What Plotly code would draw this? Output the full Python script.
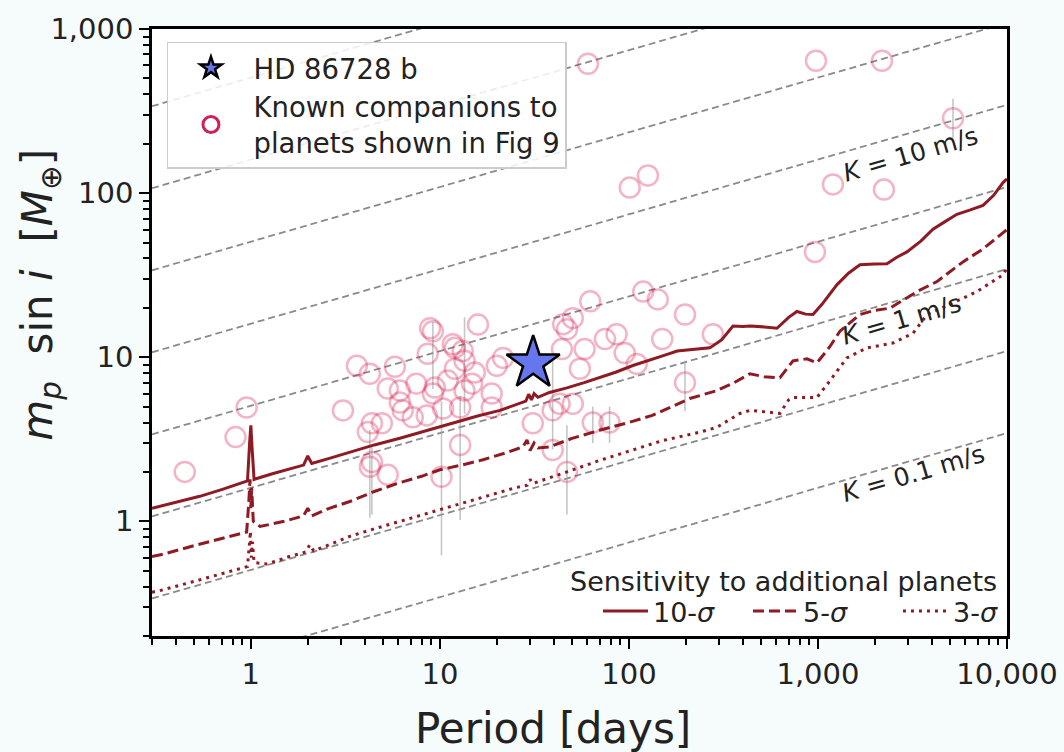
import plotly.graph_objects as go
import math

# ---------------- data ----------------
# Sensitivity curves (period in days, m sin i in Earth masses)
p_10sig = [0.3, 0.4, 0.537, 0.7, 0.9, 0.96, 0.985, 1.0, 1.015, 1.04, 1.3, 1.61, 1.9, 2.0, 2.1, 2.6,
           3.34, 4.5, 6.14, 8, 10, 13, 16, 20.8, 25, 28.5, 29.5, 30.5, 31.5, 33, 38, 47, 58, 70, 85,
           105, 130, 155, 180, 220, 268, 310, 355, 400, 437, 520, 607, 700, 774, 860, 941, 1050,
           1262, 1450, 1668, 2000, 2317, 2600, 2956, 3500, 4059, 4700, 5433, 6400, 7468, 8500, 9530, 10000]
m_10sig = [1.20, 1.31, 1.42, 1.56, 1.72, 1.76, 3.0, 3.85, 2.8, 1.8, 1.95, 2.08, 2.2, 2.5, 2.25, 2.42,
           2.64, 2.92, 3.21, 3.50, 3.76, 4.1, 4.4, 4.74, 5.1, 5.4, 5.95, 5.5, 6.0, 5.7, 6.1, 6.5, 7.0, 7.5, 8.1,
           8.9, 9.6, 10.3, 10.9, 11.1, 11.4, 12.8, 15.5, 15.4, 15.5, 15.3, 15.0, 17.5, 19.0, 18.3, 18.2, 21,
           27.7, 32.5, 36.6, 37, 37.1, 40.5, 43.8, 51, 60.3, 67, 74.3, 79, 84.2, 97, 116, 122]

p_5sig = [0.3, 0.343, 0.5, 0.775, 0.95, 0.975, 0.99, 1.0, 1.01, 1.03, 1.12, 1.5, 1.9, 2.0, 2.1, 2.6,
          3.34, 4.5, 6.14, 8, 10, 13, 16.9, 22, 27.5, 28.9, 30, 31.5, 33, 38, 50, 70, 100, 133, 170,
          210, 292, 360, 437, 520, 629, 738, 875, 988, 1150, 1307, 1668, 2000, 2404, 3342, 4264, 5000,
          5848, 7468, 9530, 10000]
m_5sig = [0.61, 0.63, 0.71, 0.81, 0.86, 1.3, 1.8, 1.2, 1.6, 1.0, 0.93, 1.0, 1.08, 1.2, 1.08, 1.2,
          1.32, 1.52, 1.72, 1.88, 2.06, 2.2, 2.37, 2.6, 2.84, 3.13, 2.7, 3.0, 2.8, 2.84, 3.2, 3.59, 4.0, 4.42, 5.0,
          5.6, 6.26, 7.0, 7.93, 7.6, 7.5, 9.5, 9.77, 9.24, 11.5, 14.4, 18.2, 19.3, 19.9, 25.1, 28.9, 33,
          38.1, 45.7, 57.8, 60]

p_3sig = [0.3, 0.33, 0.5, 0.8, 0.96, 0.98, 0.995, 1.005, 1.02, 1.04, 1.22, 1.6, 1.95, 2.05, 2.15, 2.6,
          3.34, 4.5, 6.14, 8, 10, 13, 19, 25, 29, 30, 31, 34, 47, 70, 105, 150, 237, 292, 386, 437,
          629, 700, 738, 988, 1157, 1422, 1815, 2494, 3184, 3776, 4992, 6930, 9530, 10000]
m_3sig = [0.37, 0.378, 0.43, 0.50, 0.53, 0.7, 0.87, 0.6, 0.75, 0.56, 0.55, 0.61, 0.65, 0.72, 0.66, 0.72,
          0.81, 0.9, 1.0, 1.09, 1.17, 1.28, 1.46, 1.6, 1.66, 1.8, 1.7, 1.76, 2.0, 2.35, 2.72, 3.1, 3.49, 3.74, 4.54, 4.74,
          4.55, 5.5, 5.68, 5.68, 7.19, 9.9, 11.4, 12.2, 14.0, 18.2, 21.0, 25.1, 31.8, 35]

# Known companions
comp_period = [60.7, 976, 2181, 5180, 101, 126, 1200, 2234, 964, 119, 142, 198,
               0.447, 0.83, 0.95, 3.07, 3.64, 4.26, 5.78, 4.16, 4.37, 4.93, 4.26, 4.37, 5.3, 5.3,
               6.14, 6.14, 6.36, 7.19, 8.52, 8.87, 9.18, 8.62, 9.18, 9.4, 10.4, 10.2, 11.7, 13.2,
               13.5, 12.0, 13.5, 12.8, 12.8, 15.9, 15.3, 18.8, 20.0, 21.6,
               44.2, 44.9, 50.5, 47, 62.4, 58.3, 55, 43, 50.5, 74.7, 86, 95, 150, 110, 198, 278,
               31, 39.5, 39.5, 47, 64.4, 79, 7.5, 11, 14.8, 18.8, 12.0]
comp_mass = [614, 640, 640, 286, 108, 128, 113, 105, 43.8, 25.1, 22.5, 18.2,
             2.0, 3.26, 4.94, 4.74, 8.87, 7.93, 8.74, 3.5, 3.96, 3.96, 2.15, 2.30, 1.92, 6.44,
             6.26, 5.3, 4.74, 4.30, 4.42, 15.0, 14.4, 10.5, 6.0, 6.53, 4.87, 1.87, 12.0, 10.9,
             9.5, 8.5, 6.26, 4.94, 2.92, 15.8, 8.06, 6.0, 8.87, 9.9,
             11.2, 15.9, 17.3, 14.8, 21.9, 11.2, 8.5, 5.2, 5.2, 12.9, 13.8, 10.6, 12.9, 9.1, 7.0, 13.8,
             3.96, 4.74, 2.72, 2.0, 4.0, 4.0, 6.9, 7.2, 6.9, 4.94, 11.4]

# Companions with visible uncertainties
err_period = [4.26, 10.2, 12.8, 47, 198, 5180, 9.18, 13.5, 39.5, 64.4, 79, 4.37]
err_mass = [2.15, 1.87, 2.92, 2.0, 7.0, 286, 14.4, 9.5, 4.74, 4.0, 4.0, 2.30]
err_plus = [1.45, 3.5, 2.9, 1.85, 2.5, 90, 2.0, 8.0, 5.0, 1.0, 1.0, 0.6]
err_minus = [1.1, 1.25, 1.9, 0.9, 2.3, 70, 8.0, 5.0, 2.0, 1.0, 1.0, 1.2]

# HD 86728 b
planet_period = [31.15]
planet_mass = [9.2]

# Constant RV semi-amplitude lines
k_values = [0.1, 0.316, 1, 3.16, 10, 31.6, 100, 316]
k_coef = 1.6            # Earth masses per (m/s) at P = 1 day
k_period_span = [0.3, 10000]
k_label_text = ["<i>K</i> = 10 m/s", "<i>K</i> = 1 m/s", "<i>K</i> = 0.1 m/s"]
k_label_period = [3069, 2782, 3207]
k_label_mass = [173, 17.0, 1.95]

# Axis ticks
x_tickvals = [1, 10, 100, 1000, 10000]
x_ticktext = ["1", "10", "100", "1,000", "10,000"]
y_tickvals = [1, 10, 100, 1000]
y_ticktext = ["1", "10", "100", "1,000"]

# ---------------- figure ----------------
FONT = "DejaVu Sans"
CURVE = "#8e1b24"
TXT = "#222222"
NB = "\u00a0"
fig = go.Figure()

for k in k_values:
    fig.add_trace(go.Scatter(
        x=k_period_span, y=[k_coef * k * p ** (1 / 3) for p in k_period_span],
        mode="lines", line=dict(color="#8a8a8a", width=1.8, dash="7px,4px"),
        showlegend=False, hoverinfo="skip"))

fig.add_trace(go.Scatter(
    x=err_period, y=err_mass, mode="markers", marker=dict(size=1, opacity=0),
    error_y=dict(type="data", symmetric=False, array=err_plus, arrayminus=err_minus,
                 color="rgba(160,160,160,0.6)", thickness=1.6, width=0),
    showlegend=False, hoverinfo="skip"))

fig.add_trace(go.Scatter(
    x=comp_period, y=comp_mass, mode="markers",
    marker=dict(symbol="circle-open", size=20, color="rgba(220,30,80,0.33)",
                line=dict(width=2.5)),
    showlegend=False))

fig.add_trace(go.Scatter(
    x=p_10sig, y=m_10sig, mode="lines", name="10-<i>σ</i>",
    line=dict(color=CURVE, width=3), legend="legend2"))
fig.add_trace(go.Scatter(
    x=p_5sig, y=m_5sig, mode="lines", name="5-<i>σ</i>",
    line=dict(color=CURVE, width=3, dash="11px,5px"), legend="legend2"))
fig.add_trace(go.Scatter(
    x=p_3sig, y=m_3sig, mode="lines", name="3-<i>σ</i>",
    line=dict(color=CURVE, width=3, dash="3px,5px"), legend="legend2"))

fig.add_trace(go.Scatter(
    x=planet_period, y=planet_mass, mode="markers", name="HD 86728 b",
    marker=dict(symbol="star", size=40, color="#6677ee", line=dict(color="black", width=2.5)),
    legend="legend"))
fig.add_trace(go.Scatter(
    x=[None], y=[None], mode="markers", name="Known companions to<br>planets shown in Fig 9",
    marker=dict(symbol="circle-open", size=16, color="#d02058", line=dict(width=3)),
    legend="legend"))

for txt, p, m in zip(k_label_text, k_label_period, k_label_mass):
    fig.add_annotation(x=math.log10(p), y=math.log10(m), xref="x", yref="y", text=txt,
                       showarrow=False, textangle=-16.3,
                       font=dict(family=FONT, size=25, color=TXT))

# axis titles
fig.add_annotation(x=0.469, y=-0.152, xref="paper", yref="paper", text="Period [days]",
                   showarrow=False, xanchor="center", yanchor="middle",
                   font=dict(family=FONT, size=42, color=TXT))
fig.add_annotation(x=-0.13, y=0.562, xref="paper", yref="paper",
                   text=f"<i>m</i><sub><i>p</i></sub>{NB}{NB}sin{NB}<i>i</i>{NB}{NB}[<i>M</i><sub>⊕</sub>]",
                   showarrow=False, textangle=-90, xanchor="center", yanchor="middle",
                   font=dict(family=FONT, size=42, color=TXT))

# title of the sensitivity legend
fig.add_annotation(x=0.739, y=0.089, xref="paper", yref="paper",
                   text="Sensitivity to additional planets",
                   showarrow=False, xanchor="center", yanchor="middle",
                   font=dict(family=FONT, size=27, color=TXT))

minor_x = [d * 10 ** e for e in range(-1, 4) for d in range(2, 10) if 0.3 <= d * 10 ** e <= 10000]
minor_y = [d * 10 ** e for e in range(-1, 3) for d in range(2, 10) if 0.2 <= d * 10 ** e <= 1000]

axis_common = dict(type="log", showgrid=False, zeroline=False, showline=True, linecolor="black",
                   linewidth=2.5, mirror=True, ticks="outside", ticklen=10, tickwidth=2,
                   tickcolor="black", tickfont=dict(family=FONT, size=29, color=TXT))

fig.update_xaxes(**axis_common, range=[math.log10(0.3), 4],
                 tickvals=x_tickvals, ticktext=x_ticktext,
                 minor=dict(tickvals=minor_x, ticks="outside", ticklen=6, tickwidth=1.5, tickcolor="black"))
fig.update_yaxes(**axis_common, range=[math.log10(0.2), 3],
                 tickvals=y_tickvals, ticktext=y_ticktext,
                 minor=dict(tickvals=minor_y, ticks="outside", ticklen=6, tickwidth=1.5, tickcolor="black"))

fig.update_layout(
    width=1064, height=752,
    margin=dict(l=152, r=57, t=29, b=116, autoexpand=False),
    paper_bgcolor="#f6fbfb", plot_bgcolor="white",
    font=dict(family=FONT, color=TXT),
    legend=dict(x=0.0175, y=0.9786, xanchor="left", yanchor="top",
                bgcolor="rgba(255,255,255,0.85)", bordercolor="#cccccc", borderwidth=1.5,
                font=dict(family=FONT, size=27.5, color=TXT), itemwidth=75, tracegroupgap=4),
    legend2=dict(x=0.5216, y=0.0, xanchor="left", yanchor="bottom", orientation="h",
                 bgcolor="rgba(255,255,255,0)", borderwidth=0,
                 font=dict(family=FONT, size=27, color=TXT), itemwidth=45,
                 entrywidth=90, entrywidthmode="pixels"),
    showlegend=True,
)

fig.write_html("out.html")
